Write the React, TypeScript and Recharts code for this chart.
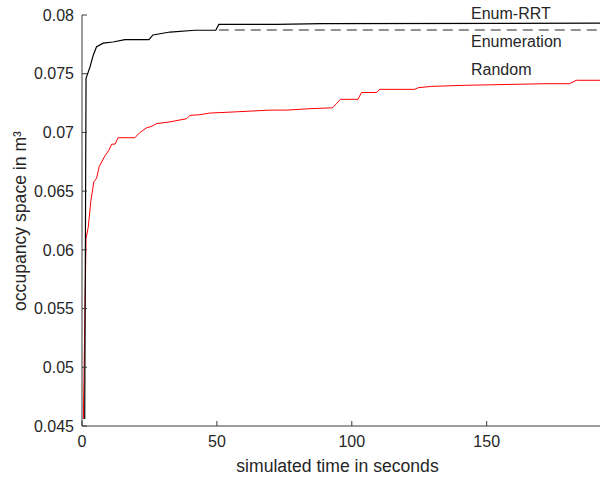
import { LineChart, Line, XAxis, YAxis } from "recharts";

// time (s) / occupancy (m^3) samples
const enumRrtTime = [1.0, 1.5, 3.0, 4.2, 5.4, 7.9, 11.5, 15.9, 24.8, 26.3, 32.6, 41.9, 49.6, 50.7, 72.2, 88.9, 192];
const enumRrtSpace = [0.0456, 0.0746, 0.0756, 0.0766, 0.0773, 0.0776, 0.0777, 0.0779, 0.0779, 0.0783, 0.07855, 0.0787, 0.0787, 0.0792, 0.0792, 0.07927, 0.0793];

const enumerationTime = [50.7, 192];
const enumerationSpace = [0.07872, 0.07872];

const randomTime = [
  0.5, 1.5, 2.3, 3.3, 4.4, 5.4, 6.4, 8.5, 10.0, 11.0, 12.2, 13.4, 19.6, 21.5, 24.0, 25.8, 27.7, 32.6,
  38.8, 40.0, 43.7, 47.4, 56.0, 69.6, 75.8, 84.4, 92.9, 94.3, 95.8, 102.3, 103.6, 109.1, 110.4, 123.3,
  124.6, 129.5, 141.2, 172.1, 180.7, 183.2, 192,
];
const randomSpace = [
  0.0456, 0.061, 0.0619, 0.0642, 0.0658, 0.0661, 0.0671, 0.068, 0.0685, 0.069, 0.069, 0.06955, 0.06955,
  0.07, 0.0704, 0.07052, 0.07075, 0.0709, 0.07117, 0.07145, 0.07151, 0.07165, 0.07174, 0.0719, 0.0719,
  0.07202, 0.0721, 0.07245, 0.07282, 0.07282, 0.0734, 0.0734, 0.07367, 0.07367, 0.07381, 0.07392,
  0.07401, 0.07415, 0.07415, 0.07444, 0.07444,
];

const xTicks = [0, 50, 100, 150];
const yTicks = [0.045, 0.05, 0.055, 0.06, 0.065, 0.07, 0.075, 0.08];
const legendNames = ["Enum-RRT", "Enumeration", "Random"];

const zip = (t: number[], v: number[]) => t.map((x, i) => ({ t: x, v: v[i] }));

const FONT = "'Liberation Sans', Arial, Helvetica, sans-serif";
const TEXT = "#262626";

export default function App() {
  const tickStyle = { fontSize: 16, fill: TEXT, fontFamily: FONT };
  return (
    <div style={{ position: "absolute", left: 0, top: 0, width: 605, height: 479, background: "#fff" }}>
      <LineChart width={605} height={479} margin={{ top: 15, right: 5, left: 0, bottom: 0 }}>
        <XAxis
          dataKey="t"
          type="number"
          domain={[0, 192]}
          ticks={xTicks}
          allowDataOverflow
          height={53}
          tickSize={-5}
          tickMargin={15}
          stroke="#3a3a3a"
          tick={tickStyle}
        />
        <YAxis
          dataKey="v"
          type="number"
          domain={[0.045, 0.08]}
          ticks={yTicks}
          allowDataOverflow
          width={82}
          tickSize={-5}
          tickMargin={13}
          stroke="#3a3a3a"
          tick={tickStyle}
        />
        <Line data={zip(enumerationTime, enumerationSpace)} dataKey="v" stroke="#6e6e6e" strokeWidth={1.6}
          strokeDasharray="10 6" dot={false} isAnimationActive={false} />
        <Line data={zip(randomTime, randomSpace)} dataKey="v" stroke="#ff0000" strokeWidth={1}
          dot={false} isAnimationActive={false} />
        <Line data={zip(enumRrtTime, enumRrtSpace)} dataKey="v" stroke="#000000" strokeWidth={1.2}
          dot={false} isAnimationActive={false} />
      </LineChart>
      <svg width={605} height={479} style={{ position: "absolute", left: 0, top: 0, pointerEvents: "none" }}>
        <g fontFamily={FONT} fontSize={16} fill={TEXT}>
          <text x={471} y={18.5}>{legendNames[0]}</text>
          <text x={471} y={46.8}>{legendNames[1]}</text>
          <text x={471} y={75}>{legendNames[2]}</text>
        </g>
        <g fontFamily={FONT} fontSize={17.6} fill={TEXT} textAnchor="middle">
          <text x={337.5} y={471.5}>simulated time in seconds</text>
          <text x={25.5} y={221} transform="rotate(-90 25.5 221)">occupancy space in m³</text>
        </g>
      </svg>
    </div>
  );
}
